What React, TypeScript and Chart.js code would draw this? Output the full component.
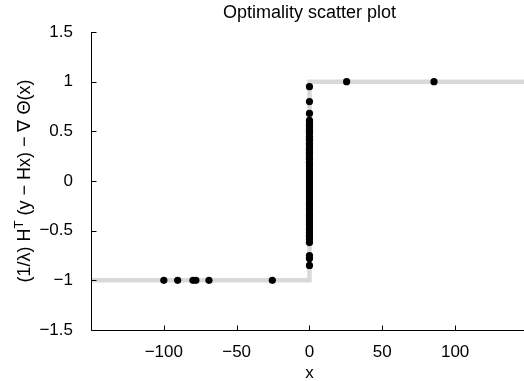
import React, { useEffect, useRef } from 'react';
import { Chart, registerables } from 'chart.js';

Chart.register(...registerables);

// ---- data ----
const stepX = [-150, 0, 0, 150];
const stepY = [-1, -1, 1, 1];

const lowerX = [-100, -90.5, -80, -78, -69, -25.5];
const lowerY = [-1, -1, -1, -1, -1, -1];

const upperX = [25.5, 85.5];
const upperY = [1, 1];

const centerY = [
  0.95, 0.8, 0.68, 0.61, 0.59, 0.57, 0.55, 0.52, 0.5, 0.48, 0.45, 0.43, 0.41,
  0.38, 0.36, 0.33, 0.31, 0.29, 0.27, 0.24, 0.22, 0.19, 0.17, 0.15, 0.12, 0.1,
  0.08, 0.05, 0.03, 0.01, -0.02, -0.04, -0.06, -0.09, -0.11, -0.14, -0.16,
  -0.18, -0.21, -0.23, -0.25, -0.28, -0.3, -0.33, -0.35, -0.37, -0.4, -0.42,
  -0.44, -0.47, -0.49, -0.52, -0.54, -0.56, -0.59, -0.62, -0.75, -0.78, -0.85,
];
const centerX = centerY.map(() => 0);

const xTicks = [-100, -50, 0, 50, 100];
const yTicks = [-1.5, -1, -0.5, 0, 0.5, 1, 1.5];

const titleText = 'Optimality scatter plot';
const xLabel = 'x';
const yLabelBefore = '(1/λ) H';
const yLabelSup = 'T';
const yLabelAfter = ' (y − Hx) − ∇ Θ(x)';

const FONT = '"Liberation Sans", Arial, Helvetica, sans-serif';

const fmt = (v: number) => String(v).replace('-', '−');

const axesPlugin = {
  id: 'matlabAxes',
  afterDraw(chart: any) {
    const { ctx, chartArea } = chart;
    const xs = chart.scales.x;
    const ys = chart.scales.y;
    const left = Math.round(chartArea.left) + 0.5;
    const bottom = Math.round(chartArea.bottom) + 0.5;
    ctx.save();
    ctx.strokeStyle = '#000';
    ctx.lineWidth = 1;
    ctx.beginPath();
    ctx.moveTo(left, chartArea.top);
    ctx.lineTo(left, bottom);
    ctx.lineTo(chartArea.right, bottom);
    ctx.stroke();
    // inward ticks
    ctx.beginPath();
    xTicks.forEach((v) => {
      const px = Math.round(xs.getPixelForValue(v)) + 0.5;
      ctx.moveTo(px, bottom);
      ctx.lineTo(px, bottom - 5);
    });
    yTicks.forEach((v) => {
      const py = Math.round(ys.getPixelForValue(v)) + 0.5;
      ctx.moveTo(left, py);
      ctx.lineTo(left + 5, py);
    });
    ctx.stroke();

    // title
    ctx.fillStyle = '#000';
    ctx.textAlign = 'center';
    ctx.textBaseline = 'alphabetic';
    ctx.font = `18px ${FONT}`;
    const midX = xs.getPixelForValue(0);
    ctx.fillText(titleText, midX, 18);

    // x label
    ctx.font = `17px ${FONT}`;
    ctx.fillText(xLabel, midX, 378);

    // y label with superscript
    const midY = (chartArea.top + chartArea.bottom) / 2;
    ctx.translate(30, midY);
    ctx.rotate(-Math.PI / 2);
    ctx.textAlign = 'left';
    const mainFont = `18px ${FONT}`;
    const supFont = `13px ${FONT}`;
    ctx.font = mainFont;
    const w1 = ctx.measureText(yLabelBefore).width;
    const w3 = ctx.measureText(yLabelAfter).width;
    ctx.font = supFont;
    const w2 = ctx.measureText(yLabelSup).width;
    const total = w1 + w2 + w3;
    let x0 = -total / 2;
    ctx.font = mainFont;
    ctx.fillText(yLabelBefore, x0, 0);
    x0 += w1;
    ctx.font = supFont;
    ctx.fillText(yLabelSup, x0, -7);
    x0 += w2;
    ctx.font = mainFont;
    ctx.fillText(yLabelAfter, x0, 0);
    ctx.restore();
  },
};

export default function App() {
  const ref = useRef<HTMLCanvasElement | null>(null);
  useEffect(() => {
    document.body.style.margin = '0';
    const canvas = ref.current;
    if (!canvas) return;
    const toPts = (xa: number[], ya: number[]) => xa.map((x, i) => ({ x, y: ya[i] }));
    const dot = {
      backgroundColor: '#000',
      borderColor: '#000',
      pointRadius: 3.6,
      borderWidth: 0,
      order: 1,
    };
    const chart = new Chart(canvas, {
      type: 'scatter',
      data: {
        datasets: [
          {
            type: 'line',
            data: toPts(stepX, stepY),
            borderColor: '#d9d9d9',
            borderWidth: 4.5,
            pointRadius: 0,
            showLine: true,
            fill: false,
            tension: 0,
            order: 2,
          } as any,
          { data: toPts(lowerX, lowerY), ...dot },
          { data: toPts(upperX, upperY), ...dot },
          { data: toPts(centerX, centerY), ...dot },
        ],
      },
      options: {
        animation: false,
        responsive: false,
        devicePixelRatio: 1,
        layout: { autoPadding: false, padding: { top: 32, right: 0, bottom: 0, left: 0 } },
        plugins: {
          legend: { display: false },
          title: { display: false },
          tooltip: { enabled: false },
        },
        scales: {
          x: {
            type: 'linear',
            min: -150,
            max: 147.3,
            grid: { display: false },
            border: { display: false },
            afterBuildTicks: (s: any) => {
              s.ticks = xTicks.map((v) => ({ value: v }));
            },
            afterFit: (s: any) => {
              s.height = 51;
              s.paddingLeft = 0;
              s.paddingRight = 0;
            },
            ticks: {
              color: '#000',
              padding: 4,
              font: { family: FONT, size: 17 },
              callback: (v: any) => fmt(Number(v)),
              maxRotation: 0,
            },
          },
          y: {
            type: 'linear',
            min: -1.5,
            max: 1.5,
            grid: { display: false },
            border: { display: false },
            afterBuildTicks: (s: any) => {
              s.ticks = yTicks.map((v) => ({ value: v }));
            },
            afterFit: (s: any) => {
              s.width = 91;
              s.paddingTop = 0;
              s.paddingBottom = 0;
            },
            ticks: {
              color: '#000',
              padding: 10,
              font: { family: FONT, size: 17 },
              callback: (v: any) => fmt(Number(v)),
            },
          },
        },
      },
      plugins: [axesPlugin],
    });
    return () => chart.destroy();
  }, []);
  return <canvas ref={ref} width={524} height={381} style={{ display: 'block' }} />;
}
